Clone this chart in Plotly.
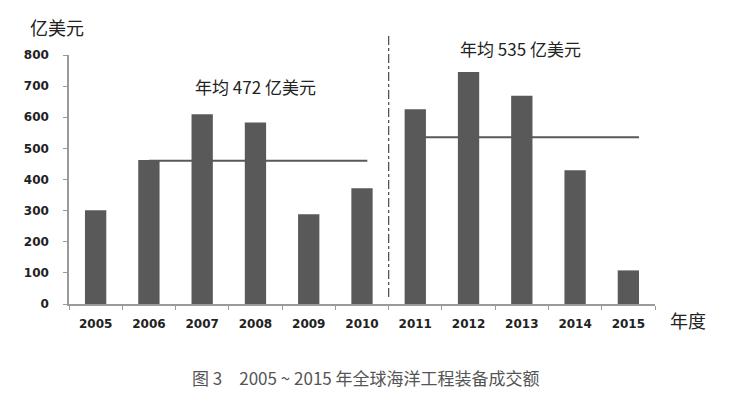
import plotly.graph_objects as go

years = ["2005", "2006", "2007", "2008", "2009", "2010",
         "2011", "2012", "2013", "2014", "2015"]
values = [301, 463, 610, 583, 288, 372, 626, 745, 669, 430, 108]
avg1_label = "年均 472 亿美元"
avg2_label = "年均 535 亿美元"
avg1_level = 460
avg2_level = 536
y_ticks = [0, 100, 200, 300, 400, 500, 600, 700, 800]
y_title = "亿美元"
x_title = "年度"
caption = "图 3　2005 ~ 2015 年全球海洋工程装备成交额"

BAR = "#595959"
AX = "#9a9a9a"

# page body has an 8px default margin; compensate
OFF = 8
W, H = 733 - OFF, 395 - OFF
L, R, T, B = 69 - OFF, 78, 55 - OFF, 91
pw, ph = W - L - R, H - T - B


def px(x):
    return (x - OFF - L) / pw


def py(y):
    return 1 - (y - OFF - T) / ph


fig = go.Figure()
fig.add_trace(go.Bar(x=years, y=values, marker=dict(color=BAR, line=dict(width=0)),
                     width=0.4, showlegend=False))

# average lines (category-index coordinates)
fig.add_shape(type="line", xref="x", yref="y", x0=1, x1=5.1, y0=avg1_level, y1=avg1_level,
              line=dict(color=BAR, width=2), layer="below")
fig.add_shape(type="line", xref="x", yref="y", x0=6, x1=10.2, y0=avg2_level, y1=avg2_level,
              line=dict(color=BAR, width=2), layer="below")
# divider
fig.add_shape(type="line", xref="x", yref="paper", x0=5.5, x1=5.5, y0=py(297), y1=py(33),
              line=dict(color="#555555", width=1.3, dash="dashdot"))

cjk = "Noto Sans CJK SC"
texts = [
    (avg1_label, 255, 86, 17, "#222222"),
    (avg2_label, 520, 48, 17, "#222222"),
    (y_title, 57, 27, 18, "#222222"),
    (x_title, 688, 320, 18, "#222222"),
    (caption, 366, 377, 17, "#555555"),
]
for t, x, y, s, c in texts:
    fig.add_annotation(x=px(x), y=py(y), xref="paper", yref="paper", text=t,
                       showarrow=False, xanchor="center", yanchor="middle",
                       font=dict(family=cjk, size=s, color=c))

fig.update_layout(
    width=W, height=H,
    margin=dict(l=L, r=R, t=T, b=B, autoexpand=False),
    plot_bgcolor="white", paper_bgcolor="white",
    bargap=0.6,
)
fig.update_xaxes(
    type="category", showline=True, linecolor=AX, linewidth=1.5,
    ticks="outside", tickson="boundaries", ticklen=4, tickcolor=AX,
    showgrid=False, ticklabelstandoff=8, automargin=False,
    tickfont=dict(family="DejaVu Sans", size=12, color="#222222", weight="bold"),
)
fig.update_yaxes(
    range=[0, 800], tickvals=y_ticks, showline=True, linecolor=AX, linewidth=1.5,
    ticks="outside", ticklen=4, tickcolor=AX, showgrid=False, zeroline=False,
    ticklabelstandoff=12, automargin=False,
    tickfont=dict(family="DejaVu Sans", size=12, color="#222222", weight="bold"),
)

fig.write_html("out.html")
